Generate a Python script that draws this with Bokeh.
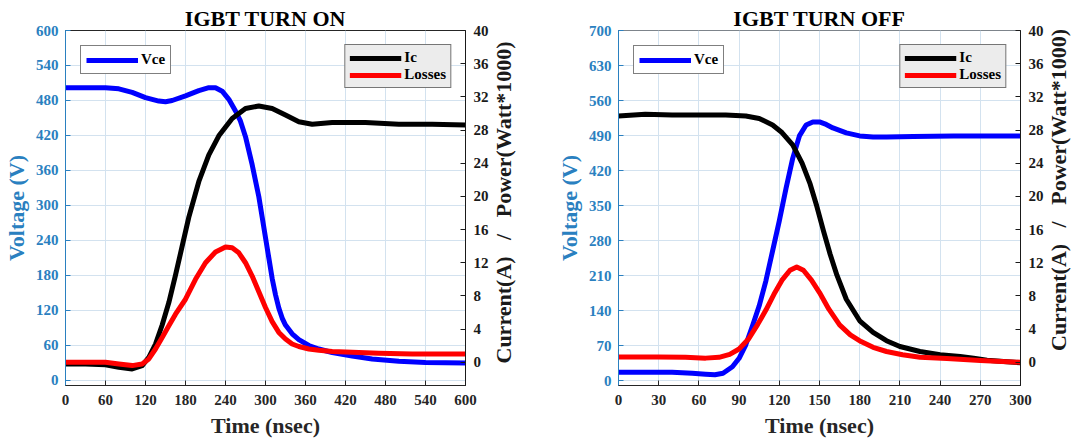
import math
from bokeh.plotting import figure
from bokeh.models import Range1d, LinearAxis, FixedTicker, Legend, LegendItem, Div
from bokeh.layouts import row
from bokeh.embed import file_html
from bokeh.resources import INLINE

# ---------------- IGBT TURN ON ----------------
on_title = "IGBT TURN ON"
on_t_vce = [0, 30, 60, 80, 100, 120, 140, 150, 160, 180, 200, 215, 225, 235, 245, 255, 262, 270, 280,
            290, 295, 300, 305, 310, 315, 320, 325, 330, 340, 350, 365, 380, 400, 430, 460, 500, 540, 600]
on_vce = [502, 502, 502, 500, 494, 485, 479, 478, 480, 488, 497, 502, 502, 496, 482, 462, 446, 418, 370,
          315, 280, 245, 210, 175, 147, 124, 107, 95, 80, 70, 60, 54, 48, 42, 37, 33, 31, 30]
on_t_ic = [0, 30, 60, 80, 100, 115, 125, 135, 145, 155, 165, 175, 185, 200, 215, 230, 250, 270, 290,
           310, 330, 350, 370, 400, 450, 500, 550, 600]
on_ic = [-0.2, -0.2, -0.3, -0.6, -0.8, -0.4, 0.6, 2.2, 4.5, 7.2, 10.5, 14.0, 17.5, 21.8, 25.0, 27.3,
         29.4, 30.6, 30.9, 30.6, 29.8, 29.0, 28.7, 28.9, 28.9, 28.7, 28.7, 28.6]
on_t_loss = [0, 30, 60, 80, 100, 115, 125, 135, 145, 155, 165, 180, 195, 210, 225, 240, 250, 260, 270,
             280, 290, 300, 310, 320, 330, 340, 350, 365, 380, 400, 430, 470, 520, 600]
on_loss = [0, 0, 0, -0.2, -0.4, -0.2, 0.4, 1.6, 3.0, 4.4, 5.8, 7.6, 10.0, 12.0, 13.3, 13.9, 13.8, 13.2,
           12.0, 10.4, 8.5, 6.6, 4.9, 3.6, 2.8, 2.2, 1.9, 1.6, 1.45, 1.3, 1.2, 1.1, 1.0, 1.0]
on_x_ticks = [0, 60, 120, 180, 240, 300, 360, 420, 480, 540, 600]
on_v_ticks = [0, 60, 120, 180, 240, 300, 360, 420, 480, 540, 600]

# ---------------- IGBT TURN OFF ----------------
off_title = "IGBT TURN OFF"
off_t_vce = [0, 20, 40, 55, 65, 72, 78, 85, 90, 95, 100, 105, 110, 115, 120, 125, 130, 135, 140, 145,
             150, 155, 160, 170, 180, 190, 200, 220, 250, 280, 300]
off_vce = [17, 17, 17, 15, 13, 12, 15, 28, 45, 72, 110, 150, 200, 260, 320, 385, 445, 490, 512, 518,
           518, 513, 506, 496, 490, 488, 488, 489, 490, 490, 490]
off_t_ic = [0, 20, 40, 60, 80, 95, 105, 115, 122, 130, 137, 143, 148, 153, 158, 163, 170, 180, 190,
            200, 210, 225, 240, 255, 265, 275, 290, 300]
off_ic = [29.7, 29.9, 29.8, 29.8, 29.8, 29.7, 29.4, 28.6, 27.7, 26.2, 24.0, 21.5, 18.8, 15.8, 13.0,
          10.5, 7.6, 5.0, 3.6, 2.6, 1.9, 1.3, 0.9, 0.7, 0.5, 0.25, 0.05, -0.05]
off_t_loss = [0, 30, 50, 65, 75, 83, 90, 97, 104, 110, 116, 122, 128, 133, 138, 144, 150, 157, 165,
              173, 181, 190, 200, 212, 225, 245, 270, 300]
off_loss = [0.65, 0.65, 0.6, 0.5, 0.6, 0.95, 1.6, 2.8, 4.6, 6.3, 8.2, 9.9, 11.1, 11.5, 11.1, 9.9, 8.4,
            6.4, 4.5, 3.3, 2.5, 1.8, 1.3, 0.9, 0.6, 0.45, 0.2, 0.0]
off_x_ticks = [0, 30, 60, 90, 120, 150, 180, 210, 240, 270, 300]
off_v_ticks = [0, 70, 140, 210, 280, 350, 420, 490, 560, 630, 700]

pow_ticks = [0, 4, 8, 12, 16, 20, 24, 28, 32, 36, 40]
NB = "\u00a0"
right_text = "Current(A)" + NB * 3 + "/" + NB * 3 + "Power(Watt*1000)"
right_label = NB * 4 + right_text

FONT = "Liberation Serif"
LEFT_COLOR = "#2a80c0"
GRID_COLOR = "#d3e2ef"


def make_panel(title, xmax, xticks, vlim, vticks, t_v, v, t_i, ic, t_l, loss,
               width, mb_left, mb_right, mb_bottom, with_rlabel):
    p = figure(width=width, height=441, output_backend="svg", toolbar_location=None,
               x_range=Range1d(0, xmax), y_range=Range1d(*vlim),
               min_border_left=mb_left, min_border_right=mb_right,
               min_border_top=30, min_border_bottom=mb_bottom,
               background_fill_color="white", border_fill_color="white")
    p.title.text = title
    p.title.align = "center"
    p.title.text_font = FONT
    p.title.text_font_style = "bold"
    p.title.text_font_size = "22px"
    p.title.text_color = "black"
    p.title.standoff = 0
    p.outline_line_color = "#262626"
    p.outline_line_width = 1

    p.extra_y_ranges = {"pw": Range1d(-2.8, 40)}

    xa = p.xaxis[0]
    xa.ticker = FixedTicker(ticks=xticks)
    xa.axis_label = "Time (nsec)"
    ya = p.yaxis[0]
    ya.ticker = FixedTicker(ticks=vticks)
    ya.axis_label = "Voltage (V)"
    ra = LinearAxis(y_range_name="pw", ticker=FixedTicker(ticks=pow_ticks))
    p.add_layout(ra, "right")

    for ax, col in ((xa, "#262626"), (ya, LEFT_COLOR), (ra, "#1a1a1a")):
        ax.major_tick_in = 5
        ax.major_tick_out = 0
        ax.minor_tick_in = 0
        ax.minor_tick_out = 0
        ax.axis_line_color = col
        ax.major_tick_line_color = col
        ax.major_label_text_color = col
        ax.axis_label_text_color = col
        ax.major_label_text_font = FONT
        ax.major_label_text_font_style = "bold"
        ax.major_label_text_font_size = "15px"
        ax.axis_label_text_font = FONT
        ax.axis_label_text_font_style = "bold"
        ax.axis_label_text_font_size = "22px"
        ax.major_label_standoff = 7
        ax.axis_label_standoff = 4
    xa.major_label_standoff = 9
    xa.axis_label_standoff = 5
    ra.major_label_standoff = 8
    if with_rlabel:
        # right-axis title, reading bottom-to-top like the reference
        ra.axis_label = right_label
        ra.axis_label_orientation = math.pi / 2
        ra.axis_label_align = "start"
        ra.axis_label_standoff = 12

    p.xgrid.ticker = FixedTicker(ticks=xticks)
    p.xgrid.grid_line_color = GRID_COLOR
    p.ygrid.ticker = FixedTicker(ticks=vticks)
    p.ygrid.grid_line_color = GRID_COLOR

    r_v = p.line(t_v, v, line_color="#0000ff", line_width=5, line_join="round")
    r_i = p.line(t_i, ic, line_color="black", line_width=5, line_join="round", y_range_name="pw")
    r_l = p.line(t_l, loss, line_color="#ff0000", line_width=5, line_join="round", y_range_name="pw")

    def style(lg, bg):
        lg.label_text_font = FONT
        lg.label_text_font_style = "bold"
        lg.label_text_font_size = "15px"
        lg.label_text_color = "black"
        lg.padding = 4
        lg.spacing = 0
        lg.margin = 14
        lg.glyph_width = 52
        lg.glyph_height = 16
        lg.label_height = 16
        lg.label_standoff = 3
        lg.border_line_color = "black"
        lg.border_line_width = 1
        lg.background_fill_color = bg
        lg.background_fill_alpha = 1

    lg1 = Legend(items=[LegendItem(label="Vce", renderers=[r_v])], location="top_left")
    style(lg1, "white")
    lg1.margin = 15
    lg1.padding = 5
    lg1.label_height = 14
    lg1.glyph_height = 14
    lg2 = Legend(items=[LegendItem(label="Ic", renderers=[r_i]),
                        LegendItem(label="Losses", renderers=[r_l])], location="top_right")
    style(lg2, "#ececec")
    p.add_layout(lg1, "center")
    p.add_layout(lg2, "center")
    return p


p1 = make_panel(on_title, 600, on_x_ticks, (-8.6, 600), on_v_ticks,
                on_t_vce, on_vce, on_t_ic, on_ic, on_t_loss, on_loss,
                540, 65, 75, 56, True)
p2 = make_panel(off_title, 300, off_x_ticks, (-9.5, 701), off_v_ticks,
                off_t_vce, off_vce, off_t_ic, off_ic, off_t_loss, off_loss,
                510, 78, 30, 53, False)

# right-axis title of the second panel (text column right of the plot)
rtitle = Div(text=right_text, width=24, height=377,
             styles={"display": "flex", "align-items": "center", "justify-content": "center",
                     "writing-mode": "vertical-rl",
                     "transform": "translate(-8px, -4px) rotate(180deg)",
                     "font-family": FONT, "font-weight": "bold", "font-size": "22px",
                     "color": "#1a1a1a", "white-space": "nowrap", "line-height": "24px",
                     "overflow": "visible"})

layout = row(p1, p2, rtitle, spacing=0)
open("out.html", "w").write(file_html(layout, INLINE))
